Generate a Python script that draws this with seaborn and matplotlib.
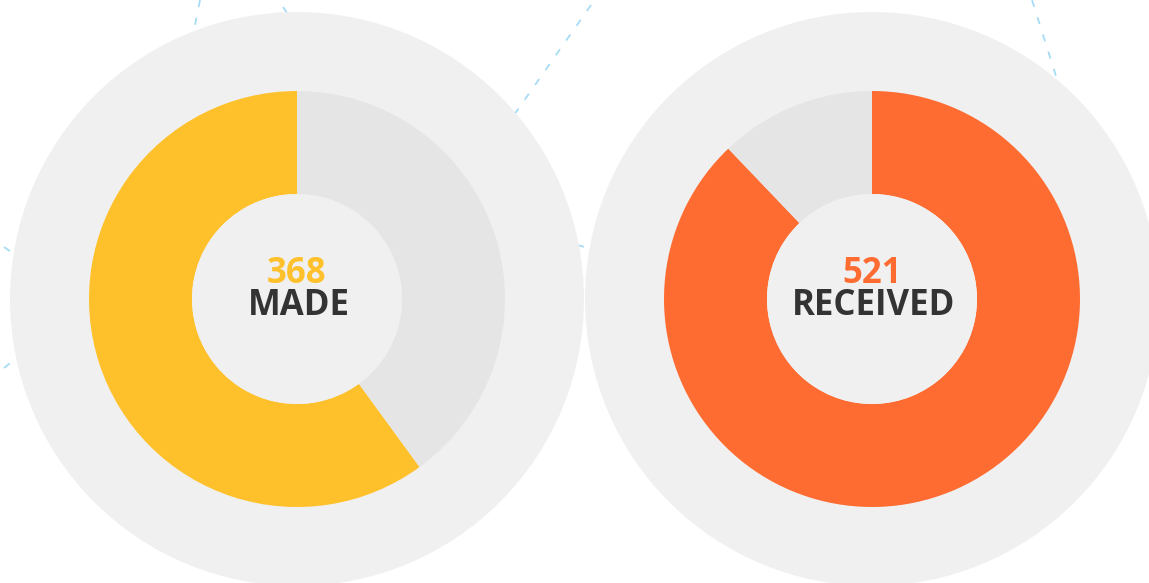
import matplotlib
matplotlib.use("Agg")
import matplotlib.pyplot as plt
from matplotlib.patches import Circle
import seaborn as sns

# ---- data ----
labels = ["MADE", "RECEIVED"]
values = [368, 521]
remainders = [245, 72]
colors = ["#FFC12B", "#FF6C32"]
rest_color = "#E5E5E5"
counterclock = [True, False]

sns.set_theme(style="white")
plt.rcParams['font.family'] = ['Open Sans', 'DejaVu Sans']

W, H = 1149, 583
fig = plt.figure(figsize=(W / 100, H / 100), dpi=100)
ax = fig.add_axes([0, 0, 1, 1])
ax.set_facecolor("white")

# decorative dashed connector lines (image pixel coordinates)
deco = [((200, 0), (190, 50)), ((283, 7), (289, 16)), ((591, 5), (500, 135)),
        ((1032, 0), (1062, 95)), ((4, 247), (20, 258)), ((4, 368), (20, 355)),
        ((577, 245), (592, 249))]
for (x0, y0), (x1, y1) in deco:
    ax.plot([x0, x1], [H - y0, H - y1], color="#A6DCF5", lw=1.3,
            ls=(0, (4, 6)), zorder=1)

centers = [(297, H - 299), (872, H - 299)]
outer_r = 287
donut_r = 208
hole_r = 105

for i, (cx, cy) in enumerate(centers):
    ax.add_patch(Circle((cx, cy), outer_r, color="#F0F0F0", zorder=2, lw=0))
    ax.pie([values[i], remainders[i]], colors=[colors[i], rest_color],
           startangle=90, counterclock=counterclock[i], center=(cx, cy),
           radius=donut_r, wedgeprops=dict(width=donut_r - hole_r, lw=0, zorder=3),
           frame=True)
    ax.add_patch(Circle((cx, cy), hole_r, color="#F0F0F0", zorder=4, lw=0))
    ax.text(cx, H - 283, str(values[i]), ha="center", va="baseline",
            fontsize=25, fontweight="bold", color=colors[i], zorder=5)
    ax.text(cx + 2, H - 315, labels[i], ha="center", va="baseline",
            fontsize=25, fontweight="bold", color="#333333", zorder=5)

ax.set_xlim(0, W)
ax.set_ylim(0, H)
ax.set_aspect("equal")
ax.axis("off")

fig.savefig("out.png", dpi=100, facecolor="white")
